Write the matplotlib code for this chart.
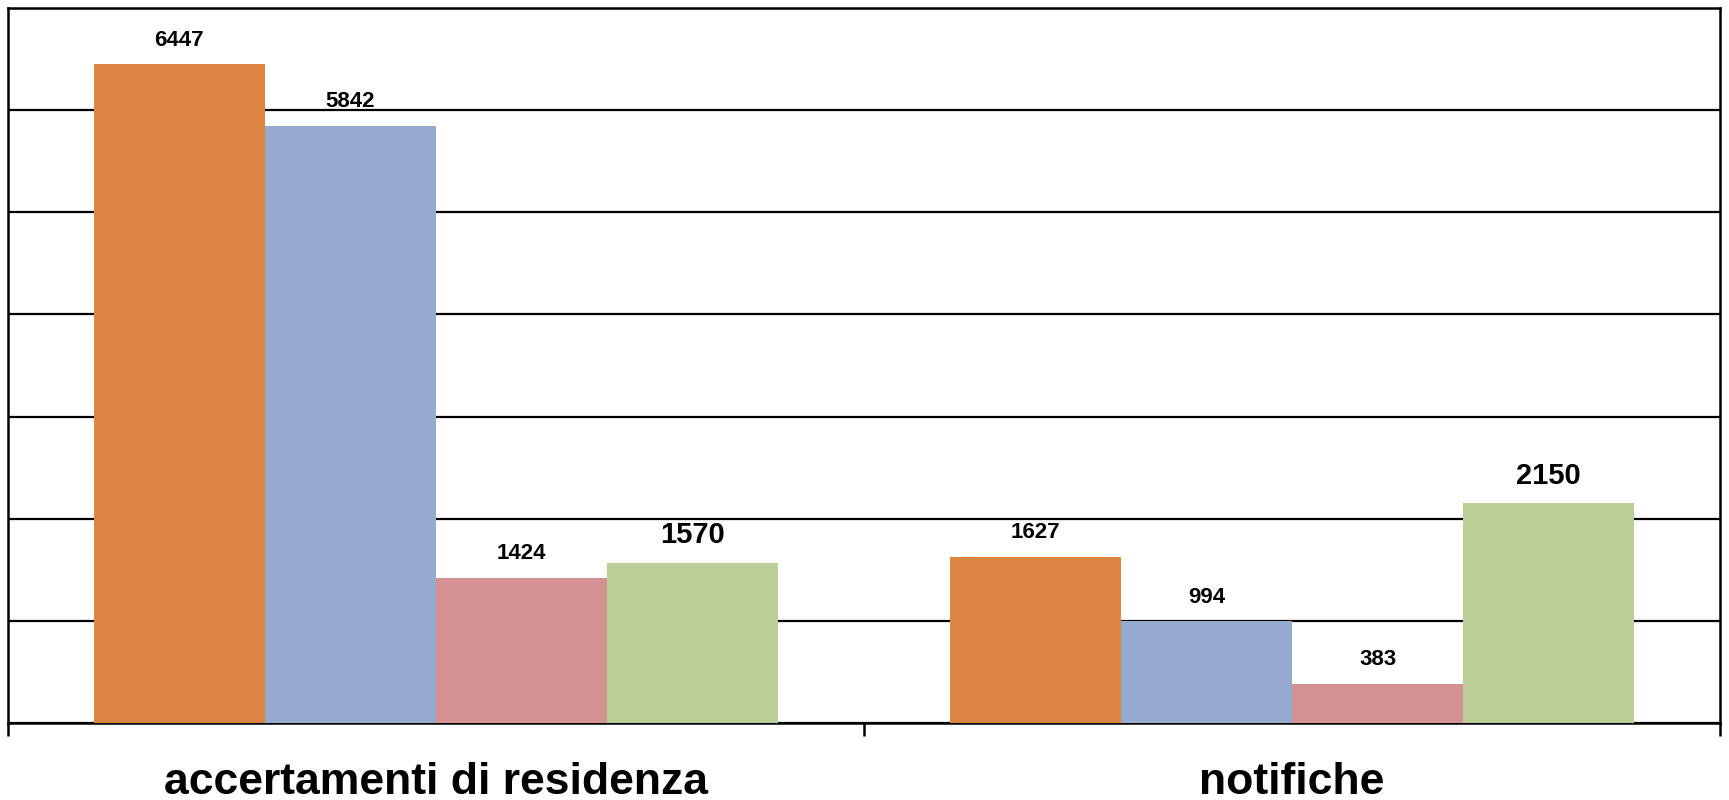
import matplotlib
matplotlib.use("Agg")
import matplotlib.pyplot as plt
import numpy as np

categories = ["accertamenti di residenza", "notifiche"]
series_a = [6447, 1627]
series_b = [5842, 994]
series_c = [1424, 383]
series_d = [1570, 2150]
colors = ["#DC8441", "#95AACF", "#D39191", "#BACF97"]
label_sizes = [16, 16, 16, 21]

plt.rcParams['font.family'] = ['Liberation Sans', 'DejaVu Sans']

fig = plt.figure(figsize=(17.29, 8.0), dpi=100)
ax = fig.add_axes([8/1729, 77/800, (1720-8)/1729, (723-8)/800])

x = np.arange(len(categories))
width = 0.2
all_series = [series_a, series_b, series_c, series_d]
for i, (vals, col, fs) in enumerate(zip(all_series, colors, label_sizes)):
    pos = x + (i - 1.5) * width
    bars = ax.bar(pos, vals, width=width, color=col, zorder=3, linewidth=0)
    for b, v in zip(bars, vals):
        ax.annotate(f"{v}", (b.get_x() + b.get_width()/2, v), xytext=(0, 10),
                    textcoords="offset points", ha="center", va="bottom",
                    fontsize=fs, fontweight="bold", color="black", zorder=4)

ax.set_ylim(0, 7000)
ax.set_xlim(-0.5, 1.5)
ax.set_yticks(np.arange(0, 7001, 1000))
ax.yaxis.grid(True, color="black", linewidth=1.6, zorder=1)
ax.set_yticklabels([])
ax.tick_params(axis="y", length=0)

ax.set_xticks([-0.5, 0.5, 1.5])
ax.set_xticklabels([])
ax.tick_params(axis="x", which="major", direction="out", length=9, width=1.8)
ax.set_xticks(x, minor=True)
ax.set_xticklabels(categories, minor=True, fontsize=32, fontweight="bold")
ax.tick_params(axis="x", which="minor", length=0, pad=28)

for s in ax.spines.values():
    s.set_color("black")
    s.set_linewidth(1.8)

fig.savefig("out.png", dpi=100, facecolor="white")
